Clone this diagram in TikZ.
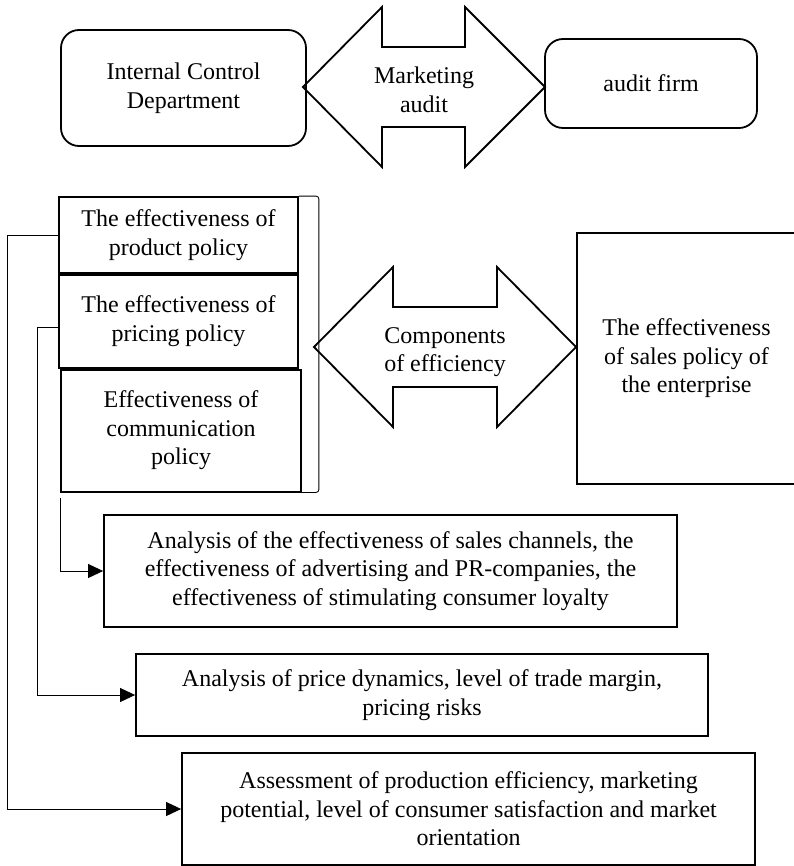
\documentclass[tikz,border=0pt]{standalone}
\usepackage{fontspec}
\setmainfont{Liberation Serif}
\usepackage{tikz}
\usetikzlibrary{arrows.meta,positioning}

\begin{document}
\begin{tikzpicture}[x=1pt,y=-1pt,>={Triangle[length=15pt,width=14pt]},
                    font=\fontsize{24}{28.5}\selectfont]
  \tikzstyle{box}=[draw,line width=1.8pt,align=center,inner sep=0pt]
  \tikzstyle{round box}=[box,rounded corners=18pt]
  \tikzstyle{big arrow}=[draw,line width=1.8pt,line join=miter]
  \tikzstyle{link}=[line width=0.9pt]

  \useasboundingbox (0,0) rectangle (793,866);

  % top row
  \node[round box, minimum width=245, minimum height=116] (ICD)   at (183.5,88)  {Internal Control\\Department};
  \node[round box, minimum width=212, minimum height=89]  (Firm)  at (651,83.5)  {audit firm};
  \draw[big arrow] (303,87) -- (382,7) -- (382,47) -- (465,47) -- (465,7) -- (545,87)
                   -- (465,167) -- (465,127) -- (382,127) -- (382,167) -- cycle;
  \node[align=center] (Audit) at (424,90) {Marketing\\audit};

  % components
  \node[box, minimum width=239, minimum height=76]  (Product) at (178.5,235) {The effectiveness of\\product policy};
  \node[box, minimum width=239, minimum height=93]  (Pricing) [below=0pt of Product] {The effectiveness of\\pricing policy};
  \node[box, minimum width=240, minimum height=122] (Comm)    [below=0pt of Pricing, xshift=2.5pt] {Effectiveness of\\communication\\policy};
  \draw[link, rounded corners=3pt] (Product.north east) -- ++(20,0) |- (Comm.south east);

  \draw[big arrow] (314,347) -- (393,267) -- (393,307) -- (497,307) -- (497,267) -- (576,347)
                   -- (497,427) -- (497,387) -- (393,387) -- (393,427) -- cycle;
  \node[align=center] (Parts) at (445,352) {Components\\of efficiency};

  \node[box, minimum width=219, minimum height=251] (Sales) at (686.5,358.5) {The effectiveness\\of sales policy of\\the enterprise};

  % analysis boxes
  \node[box, minimum width=573, minimum height=112] (Channels) at (390.5,571) {Analysis of the effectiveness of sales channels, the\\effectiveness of advertising and PR-companies, the\\effectiveness of stimulating consumer loyalty};
  \node[box, minimum width=572, minimum height=82]  (Price)    at (422,695)   {Analysis of price dynamics, level of trade margin,\\pricing risks};
  \node[box, minimum width=573, minimum height=112] (Assess)   at (468.5,809) {Assessment of production efficiency, marketing\\potential, level of consumer satisfaction and market\\orientation};

  \draw[->, link] (Product.west) -- ++(-51,0) |- (Assess.west);
  \draw[->, link] ([yshift=-6pt]Pricing.west) -- ++(-21,0) |- (Price.west);
  \draw[->, link] ([yshift=-5pt]Comm.south west) |- (Channels.west);
\end{tikzpicture}
\end{document}
